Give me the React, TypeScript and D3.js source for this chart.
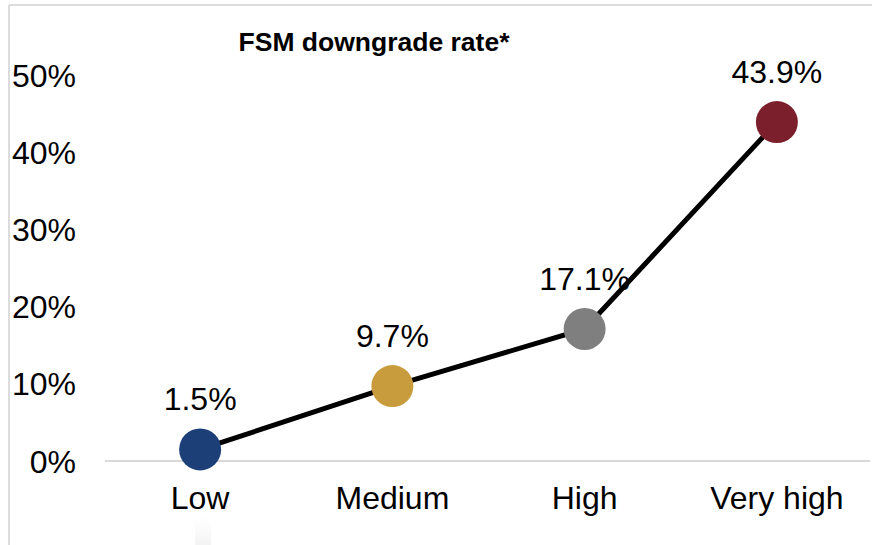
import React from "react";
import * as d3 from "d3";

// Risk categories and their downgrade rates
const categories = ["Low", "Medium", "High", "Very high"];
const rates = [0.015, 0.097, 0.171, 0.439];
const pointColors = ["#1d3f78", "#c89b3c", "#7f7f7f", "#7a1f2b"];
const yTicks = [0, 0.1, 0.2, 0.3, 0.4, 0.5];
const title = "FSM downgrade rate*";

const W = 872;
const H = 545;
const FONT = "Arial, 'Liberation Sans', Helvetica, sans-serif";
const LABEL_SIZE = 32;

export default function App() {
  const x = d3.scaleBand<string>().domain(categories).range([104, 873]).padding(0);
  const y = d3.scaleLinear().domain([0, 0.5]).range([461, 75]);
  const cx = (c: string) => (x(c) ?? 0) + x.bandwidth() / 2;

  const pts: [number, number][] = categories.map((c, i) => [cx(c), y(rates[i])]);
  const line = d3.line()(pts) ?? "";
  const pct = d3.format(".1f");
  const tickFmt = d3.format(".0%");

  return (
    <svg
      width={W}
      height={H}
      style={{ position: "absolute", left: 0, top: 0, background: "#fff" }}
      fontFamily={FONT}
    >
      <defs>
        <linearGradient id="fade" x1="0" y1="0" x2="0" y2="1">
          <stop offset="0" stopColor="#fafafa" stopOpacity="0" />
          <stop offset="1" stopColor="#f3f3f3" stopOpacity="1" />
        </linearGradient>
      </defs>
      {/* outer frame */}
      <line x1={9} x2={W} y1={5} y2={5} stroke="#dcdcdc" strokeWidth={2} />
      <line x1={9} x2={9} y1={5} y2={H} stroke="#dcdcdc" strokeWidth={2} />
      <rect x={195} y={514} width={16} height={31} fill="url(#fade)" />

      {/* title */}
      <text x={374} y={51} textAnchor="middle" fontSize={26.5} fontWeight="bold" fill="#000">
        {title}
      </text>

      {/* y axis labels */}
      {yTicks.map((t) => (
        <text key={t} x={76} y={y(t)} dy="0.36em" textAnchor="end" fontSize={LABEL_SIZE} fill="#000">
          {tickFmt(t)}
        </text>
      ))}

      {/* baseline */}
      <line x1={105} x2={870} y1={y(0)} y2={y(0)} stroke="#d9d9d9" strokeWidth={2} />

      {/* x axis labels */}
      {categories.map((c) => (
        <text key={c} x={cx(c)} y={509} textAnchor="middle" fontSize={LABEL_SIZE} fill="#000">
          {c}
        </text>
      ))}

      {/* value labels */}
      {categories.map((c, i) => (
        <text key={c} x={cx(c)} y={y(rates[i]) - 39} textAnchor="middle" fontSize={LABEL_SIZE} fill="#000">
          {pct(rates[i] * 100)}%
        </text>
      ))}

      {/* connecting line */}
      <path d={line} fill="none" stroke="#000" strokeWidth={5} />

      {/* points */}
      {categories.map((c, i) => (
        <circle key={c} cx={cx(c)} cy={y(rates[i])} r={21} fill={pointColors[i]} />
      ))}
    </svg>
  );
}
